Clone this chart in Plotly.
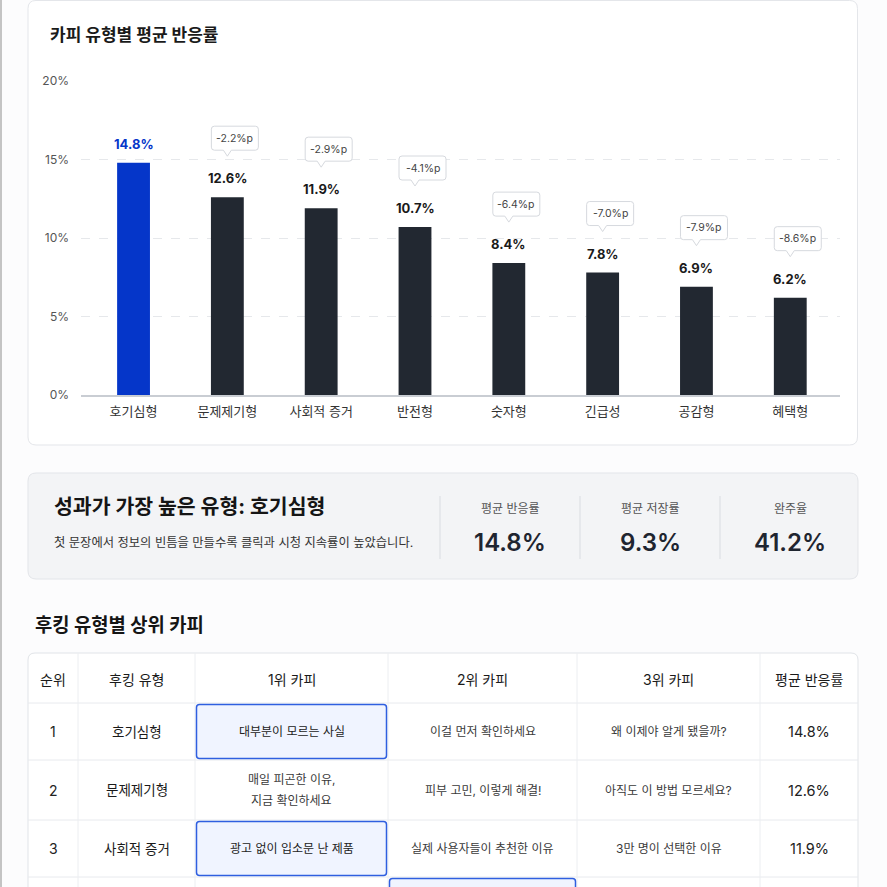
import plotly.graph_objects as go

W, H = 887, 887
FONT = "Inter, 'Noto Sans CJK KR', 'Noto Sans', sans-serif"

# 막대 차트 데이터
categories = ["호기심형", "문제제기형", "사회적 증거", "반전형", "숫자형", "긴급성", "공감형", "혜택형"]
rates = [14.8, 12.6, 11.9, 10.7, 8.4, 7.8, 6.9, 6.2]
y_ticks = [0, 5, 10, 15, 20]

# 요약 카드
best_type = "호기심형"
summary_note = "첫 문장에서 정보의 빈틈을 만들수록 클릭과 시청 지속률이 높았습니다."
metric_labels = ["평균 반응률", "평균 저장률", "완주율"]
metric_values = ["14.8%", "9.3%", "41.2%"]

# 상위 카피 표 (화면에 보이는 3행)
table_headers = ["순위", "후킹 유형", "1위 카피", "2위 카피", "3위 카피", "평균 반응률"]
table_rank = ["1", "2", "3"]
table_type = ["호기심형", "문제제기형", "사회적 증거"]
copy_1st = ["대부분이 모르는 사실", "매일 피곤한 이유,\n지금 확인하세요", "광고 없이 입소문 난 제품"]
copy_2nd = ["이걸 먼저 확인하세요", "피부 고민, 이렇게 해결!", "실제 사용자들이 추천한 이유"]
copy_3rd = ["왜 이제야 알게 됐을까?", "아직도 이 방법 모르세요?", "3만 명이 선택한 이유"]
table_rate = ["14.8%", "12.6%", "11.9%"]
best_copy_col = [0, None, 0, 1]   # 강조할 카피 열 (0=1위, 1=2위, 2=3위), 4행은 잘려서 테두리만 보임

BLUE = "#0536c9"
DARK = "#222831"


def px(x):
    return x / W


def py(y):
    return 1 - y / H


def rrect(x0, y0, x1, y1, r):
    """픽셀 좌표의 둥근 사각형 -> paper 좌표 path."""
    pts = [("M", x0 + r, y0), ("L", x1 - r, y0), ("Q", x1, y0, x1, y0 + r),
           ("L", x1, y1 - r), ("Q", x1, y1, x1 - r, y1), ("L", x0 + r, y1),
           ("Q", x0, y1, x0, y1 - r), ("L", x0, y0 + r), ("Q", x0, y0, x0 + r, y0)]
    out = []
    for p in pts:
        cmd, coords = p[0], p[1:]
        xy = []
        for k in range(0, len(coords), 2):
            xy.append(f"{px(coords[k]):.5f},{py(coords[k + 1]):.5f}")
        out.append(cmd + " ".join(xy))
    return " ".join(out) + " Z"


def callout_path(xoff, w, bottom, h, tip, r=3):
    """말풍선 (픽셀, 위쪽이 +) path."""
    x0, x1 = xoff - w / 2, xoff + w / 2
    top = bottom + h
    return (f"M{x0 + r},{top} L{x1 - r},{top} Q{x1},{top} {x1},{top - r} "
            f"L{x1},{bottom + r} Q{x1},{bottom} {x1 - r},{bottom} "
            f"L4,{bottom} L0,{tip} L-4,{bottom} "
            f"L{x0 + r},{bottom} Q{x0},{bottom} {x0},{bottom + r} "
            f"L{x0},{top - r} Q{x0},{top} {x0 + r},{top} Z")


shapes = []
ann = []


def text(x, y, s, size, color="#222", weight=400, xanchor="center"):
    ann.append(dict(xref="paper", yref="paper", x=px(x), y=py(y), text=s,
                    showarrow=False, xanchor=xanchor, yanchor="middle",
                    font=dict(size=size, color=color, weight=weight, family=FONT)))


# 페이지 왼쪽 테두리
shapes.append(dict(type="line", xref="paper", yref="paper", x0=px(1), x1=px(1),
                   y0=0, y1=1, line=dict(color="#c4c4c4", width=2), layer="below"))

# 차트 카드
shapes.append(dict(type="path", xref="paper", yref="paper", path=rrect(28, 0.5, 857.5, 445, 8),
                   fillcolor="#ffffff", line=dict(color="#e4e6ea", width=1), layer="below"))
text(48, 35, "카피 유형별 평균 반응률", 17, "#1a1a1a", 700, "left")

fig = go.Figure()
fig.add_trace(go.Bar(
    x=categories, y=rates, width=0.35,
    marker=dict(color=[BLUE] + [DARK] * (len(rates) - 1), line_width=0),
    hoverinfo="skip",
))

for i, (cat, r) in enumerate(zip(categories, rates)):
    ann.append(dict(x=cat, y=r, xref="x", yref="y", text=f"{r:.1f}%", showarrow=False,
                    yanchor="middle", yshift=19,
                    font=dict(size=13, weight=700, color=BLUE if i == 0 else "#1a1a1a", family=FONT)))
    if i == 0:
        continue
    gap = r - rates[0]
    shapes.append(dict(type="path", xref="x", yref="y", xsizemode="pixel", ysizemode="pixel",
                       xanchor=cat, yanchor=r, path=callout_path(7.5, 47, 47, 24, 41),
                       fillcolor="#ffffff", line=dict(color="#d6d9de", width=1), layer="above"))
    ann.append(dict(x=cat, y=r, xref="x", yref="y", text=f"{gap:.1f}%p", showarrow=False,
                    yanchor="middle", yshift=59, xshift=7.5,
                    font=dict(size=10.5, color="#444", family=FONT)))

# 요약 카드
shapes.append(dict(type="path", xref="paper", yref="paper", path=rrect(28, 473, 858, 579, 8),
                   fillcolor="#f3f4f6", line=dict(color="#e3e5e9", width=1), layer="below"))
text(52, 507, f"성과가 가장 높은 유형: {best_type}", 20.5, "#151515", 700, "left")
text(52, 542, summary_note, 12.3, "#333", 400, "left")
metric_x = [510, 650, 790]
for k, (lab, val) in enumerate(zip(metric_labels, metric_values)):
    x = metric_x[k]
    shapes.append(dict(type="line", xref="paper", yref="paper", x0=px(x - 70), x1=px(x - 70),
                       y0=py(496), y1=py(559), line=dict(color="#d9dce1", width=1), layer="below"))
    text(x, 508, lab, 12, "#555")
    text(x, 542, val, 24, "#1f2530", 600)

# 표 제목
text(33, 625, "후킹 유형별 상위 카피", 18.8, "#151515", 700, "left")

# 표
col_edges = [28, 78, 195, 388, 577, 760, 858]
row_edges = [653, 703, 760, 820, 877, 935]
shapes.append(dict(type="path", xref="paper", yref="paper", path=rrect(28, 653, 858, 960, 7),
                   fillcolor="#ffffff", line=dict(color="#e1e4e8", width=1), layer="below"))
for yv in row_edges[1:-1]:
    shapes.append(dict(type="line", xref="paper", yref="paper", x0=px(28), x1=px(858),
                       y0=py(yv), y1=py(yv), line=dict(color="#e8eaee", width=1), layer="below"))
for xv in col_edges[1:-1]:
    shapes.append(dict(type="line", xref="paper", yref="paper", x0=px(xv), x1=px(xv),
                       y0=py(653), y1=0, line=dict(color="#eceef1", width=1), layer="below"))

col_mid = [(a + b) / 2 for a, b in zip(col_edges[:-1], col_edges[1:])]
for c, hname in enumerate(table_headers):
    text(col_mid[c], 679, hname, 14, "#1a1a1a")

# 강조 셀
for r, hc in enumerate(best_copy_col):
    if hc is None:
        continue
    y0, y1 = row_edges[r + 1], row_edges[r + 2]
    shapes.append(dict(type="path", xref="paper", yref="paper",
                       path=rrect(col_edges[2 + hc] + 1.5, y0 + 1.5, col_edges[3 + hc] - 1.5, y1 - 1.5, 3),
                       fillcolor="#f0f4ff", line=dict(color="#2f5fe0", width=1.5), layer="below"))

copies = [copy_1st, copy_2nd, copy_3rd]
for r in range(len(table_rank)):
    y0, y1 = row_edges[r + 1], row_edges[r + 2]
    ym = (y0 + y1) / 2
    hc = best_copy_col[r]
    text(col_mid[0], ym, table_rank[r], 14, "#222")
    text(col_mid[1], ym, table_type[r], 13.5, "#1a1a1a")
    for k in range(3):
        lines = copies[k][r].split("\n")
        for j, line in enumerate(lines):
            yy = ym + (j - (len(lines) - 1) / 2) * 21
            text(col_mid[2 + k], yy, line, 12, "#222" if hc == k else "#3a3a3a")
    text(col_mid[5], ym, table_rate[r], 14.5, "#222")

fig.update_layout(
    width=W, height=H,
    margin=dict(l=0, r=0, t=0, b=0, pad=0, autoexpand=False),
    paper_bgcolor="#fcfcfd",
    plot_bgcolor="rgba(0,0,0,0)",
    showlegend=False,
    font=dict(family=FONT),
    xaxis=dict(domain=[px(81), px(840)], range=[-0.56, 7.53], showgrid=False,
               showline=True, linecolor="#c9cdd3", linewidth=1.5, ticks="", automargin=False,
               tickfont=dict(size=13, color="#333"), ticklabelstandoff=4, fixedrange=True),
    yaxis=dict(domain=[py(395), py(81)], range=[0, 20], tickmode="array", tickvals=y_ticks,
               ticktext=[f"{v}%" for v in y_ticks], automargin=False,
               showgrid=True, gridcolor="#e6e8eb", griddash="dash", gridwidth=1,
               zeroline=False, showline=False, ticks="",
               tickfont=dict(size=12, color="#555"), ticklabelstandoff=11, fixedrange=True),
    shapes=shapes,
    annotations=ann,
)

# 페이지 여백 제거 (브라우저 기본 margin 때문에 밀리는 것 방지)
page_css = ("var s=document.createElement('style');"
            "s.textContent='html,body{margin:0!important;padding:0!important;overflow:hidden;}';"
            "document.head.appendChild(s);")
fig.write_html("out.html", config={"displayModeBar": False}, post_script=page_css)
